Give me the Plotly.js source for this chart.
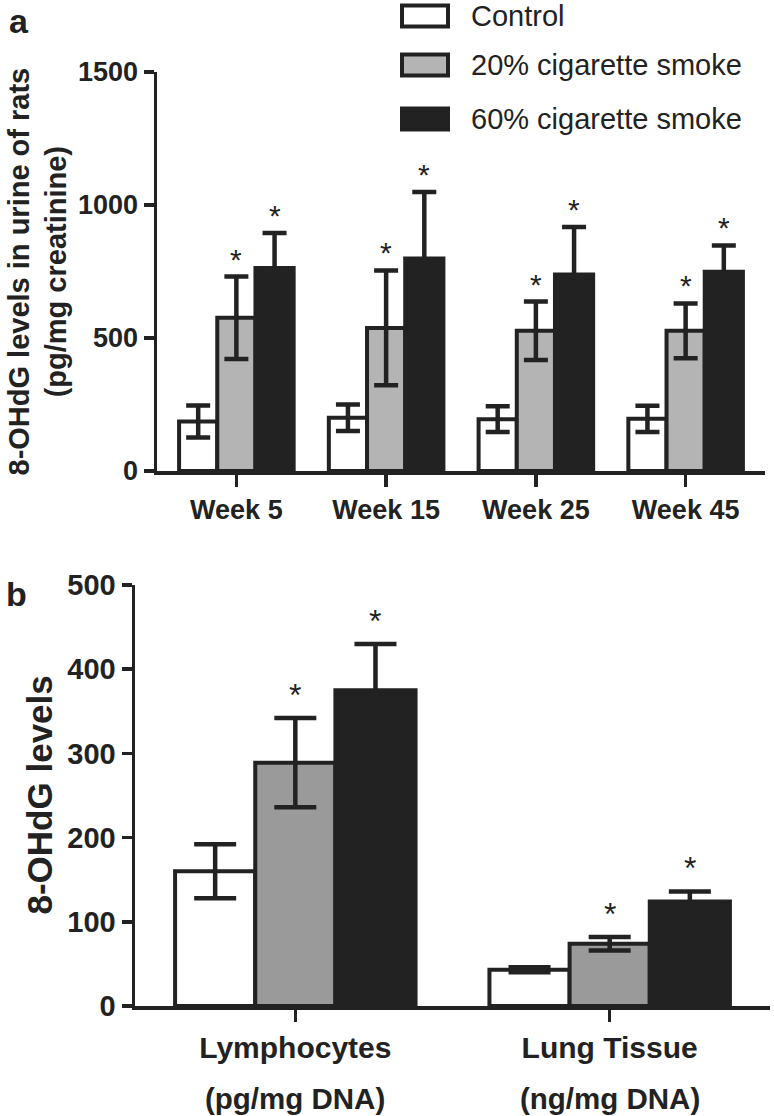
<!DOCTYPE html>
<html><head><meta charset="utf-8">
<script src="https://cdn.plot.ly/plotly-3.0.1.min.js"></script>
<style>html,body{margin:0;padding:0;background:#fff;} #chart{width:774px;height:1116px;}</style>
</head><body><div id="chart"></div>
<script>
// ---------- data ----------
const weeks = ['Week 5', 'Week 15', 'Week 25', 'Week 45'];
const seriesNames = ['Control', '20% cigarette smoke', '60% cigarette smoke'];
const urineControl = [186, 200, 195, 196];
const urineControlErr = [60, 50, 48, 49];
const urine20 = [576, 538, 527, 527];
const urine20Err = [155, 216, 110, 103];
const urine60 = [763, 799, 739, 749];
const urine60Err = [132, 250, 178, 99];
const urineTicks = [0, 500, 1000, 1500];

const tissues = ['Lymphocytes', 'Lung Tissue'];
const tissueUnits = ['(pg/mg DNA)', '(ng/mg DNA)'];
const tissueControl = [160, 43];
const tissueControlErr = [32, 3];
const tissue20 = [289, 74];
const tissue20Err = [53, 8];
const tissue60 = [375, 124];
const tissue60Err = [55, 12];
const tissueTicks = [0, 100, 200, 300, 400, 500];
const starred = [false, true, true];

const titleA = ['8-OHdG levels in urine of rats', '(pg/mg creatinine)'];
const titleB = '8-OHdG levels';

// ---------- styling / layout ----------
const W = 774, H = 1116;
const px = x => x / W;
const py = y => 1 - y / H;
const INK = '#222222';
const FONT = 'Liberation Sans, Arial, Helvetica, sans-serif';
const fillsA = ['#ffffff', '#b4b4b4', '#222222'];
const fillsB = ['#ffffff', '#9a9a9a', '#222222'];
const BARGAP = 0.235;
const barW = (1 - BARGAP) / 3;

const A = {x0: 157, x1: 765, yTop: 72, yBot: 471, range: [-0.53, 3.53], yr: [0, 1500]};
const B = {x0: 135, x1: 770, yTop: 585, yBot: 1006, range: [-0.51, 1.51], yr: [0, 500]};
const pxPerUnit = P => (P.x1 - P.x0) / (P.range[1] - P.range[0]);

const urineVals = [urineControl, urine20, urine60];
const urineErrs = [urineControlErr, urine20Err, urine60Err];
const tissueVals = [tissueControl, tissue20, tissue60];
const tissueErrs = [tissueControlErr, tissue20Err, tissue60Err];

const traces = [];
function addBars(cats, vals, errs, fills, xa, ya, capHalf) {
  vals.forEach((v, i) => {
    traces.push({
      type: 'bar', x: cats, y: v, name: seriesNames[i],
      xaxis: xa, yaxis: ya, showlegend: false,
      marker: {color: fills[i], line: {color: INK, width: 4}},
      error_y: {type: 'data', array: errs[i], visible: true, color: INK, thickness: 4.5, width: capHalf},
      hoverinfo: 'skip'
    });
  });
}
addBars(weeks, urineVals, urineErrs, fillsA, 'x', 'y', 12);
addBars(tissues, tissueVals, tissueErrs, fillsB, 'x2', 'y2', 21);

const annotations = [];
function addStars(cats, vals, errs, xref, yref, P, size, yshift) {
  const ppu = pxPerUnit(P);
  vals.forEach((v, i) => {
    if (!starred[i]) return;
    cats.forEach((c, j) => {
      annotations.push({
        x: c, y: v[j] + errs[i][j], xref: xref, yref: yref,
        xshift: (i - 1) * barW * ppu, yshift: yshift,
        yanchor: 'bottom', xanchor: 'center', showarrow: false,
        text: '*', font: {family: FONT, size: size, color: INK}
      });
    });
  });
}
addStars(weeks, urineVals, urineErrs, 'x', 'y', A, 30, -1);
addStars(tissues, tissueVals, tissueErrs, 'x2', 'y2', B, 32, 3);

// panel letters
annotations.push({x: px(7), y: py(0), xref: 'paper', yref: 'paper', xanchor: 'left', yanchor: 'top',
  showarrow: false, text: 'a', font: {family: FONT, size: 34, color: INK, weight: 'bold'}});
annotations.push({x: px(4), y: py(615), xref: 'paper', yref: 'paper', xanchor: 'left', yanchor: 'bottom',
  showarrow: false, text: 'b', font: {family: FONT, size: 34, color: INK, weight: 'bold'}});

// y titles
annotations.push({x: px(37), y: py((A.yTop + A.yBot) / 2), xref: 'paper', yref: 'paper', xanchor: 'center', yanchor: 'middle',
  showarrow: false, textangle: -90, text: titleA.join('<br>'), font: {family: FONT, size: 29, color: INK, weight: 'bold'}});
annotations.push({x: px(39), y: py((B.yTop + B.yBot) / 2), xref: 'paper', yref: 'paper', xanchor: 'center', yanchor: 'middle',
  showarrow: false, textangle: -90, text: titleB, font: {family: FONT, size: 35, color: INK, weight: 'bold'}});

// units under panel b categories
tissues.forEach((c, j) => {
  annotations.push({x: c, y: py(1098), xref: 'x2', yref: 'paper', xanchor: 'center', yanchor: 'middle',
    showarrow: false, text: tissueUnits[j], font: {family: FONT, size: 29.5, color: INK, weight: 'bold'}});
});

// legend (boxes + labels)
const legRows = [16, 65, 119];
const shapes = [];
seriesNames.forEach((n, i) => {
  const cy = legRows[i];
  shapes.push({type: 'rect', xref: 'paper', yref: 'paper', x0: px(402), x1: px(448), y0: py(cy - 10.5), y1: py(cy + 10.5),
    line: {color: INK, width: 4}, fillcolor: fillsA[i]});
  annotations.push({x: px(469), y: py(cy), xref: 'paper', yref: 'paper', xanchor: 'left', yanchor: 'middle',
    showarrow: false, text: n, font: {family: FONT, size: 29, color: INK}});
});

function axisX(P, cats, size) {
  return {domain: [px(P.x0), px(P.x1)], range: P.range, type: 'category', categoryarray: cats,
    showline: true, linecolor: INK, linewidth: 3.5, ticks: 'outside', ticklen: 12, tickwidth: 3.5, tickcolor: INK,
    showgrid: false, zeroline: false, fixedrange: true,
    tickfont: {family: FONT, size: size, color: INK, weight: 'bold'}};
}
function axisY(P, ticks, size, anchor) {
  return {domain: [py(P.yBot), py(P.yTop)], range: P.yr, anchor: anchor,
    tickmode: 'array', tickvals: ticks, ticktext: ticks.map(String),
    showline: true, linecolor: INK, linewidth: 3.5, ticks: 'outside', ticklen: 10, tickwidth: 3.5, tickcolor: INK,
    showgrid: false, zeroline: false, fixedrange: true,
    tickfont: {family: FONT, size: size, color: INK, weight: 'bold'}};
}

const layout = {
  width: W, height: H, margin: {l: 0, r: 0, t: 0, b: 0},
  paper_bgcolor: '#ffffff', plot_bgcolor: 'rgba(0,0,0,0)',
  barmode: 'group', bargap: BARGAP, bargroupgap: 0, showlegend: false,
  xaxis: Object.assign(axisX(A, weeks, 27), {anchor: 'y'}),
  yaxis: axisY(A, urineTicks, 27, 'x'),
  xaxis2: Object.assign(axisX(B, tissues, 30), {anchor: 'y2'}),
  yaxis2: axisY(B, tissueTicks, 29, 'x2'),
  annotations: annotations, shapes: shapes
};

Plotly.newPlot('chart', traces, layout, {staticPlot: true, displayModeBar: false});
</script></body></html>
